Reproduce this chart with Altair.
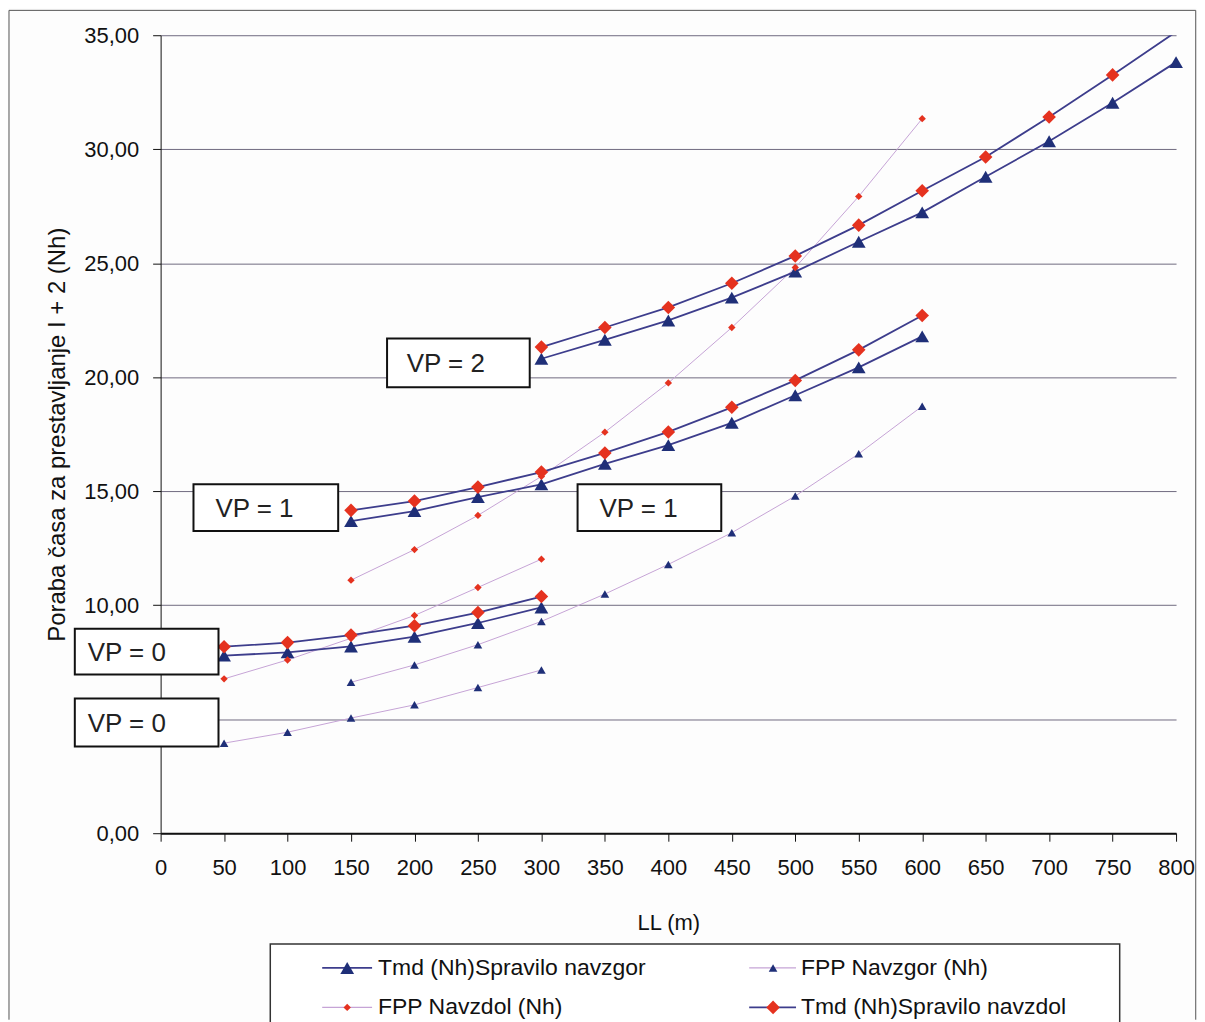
import altair as alt
import pandas as pd

# ---------------- data ----------------
series_names = [
    "Tmd (Nh)Spravilo navzgor",
    "FPP Navzgor (Nh)",
    "FPP Navzdol (Nh)",
    "Tmd (Nh)Spravilo navzdol",
]

x_vp0 = [50, 100, 150, 200, 250, 300]
x_vp1 = [150, 200, 250, 300, 350, 400, 450, 500, 550, 600]
x_vp2 = [300, 350, 400, 450, 500, 550, 600, 650, 700, 750, 800]

# VP = 0
tmd_gor_vp0 = [7.79, 7.93, 8.19, 8.62, 9.22, 9.90]
tmd_dol_vp0 = [8.18, 8.36, 8.69, 9.10, 9.68, 10.38]
fpp_gor_vp0 = [3.95, 4.43, 5.05, 5.63, 6.39, 7.16]
fpp_dol_vp0 = [6.77, 7.60, 8.55, 9.55, 10.78, 12.02]

# VP = 1
tmd_gor_vp1 = [13.69, 14.13, 14.74, 15.30, 16.20, 17.02, 18.00, 19.21, 20.43, 21.79]
tmd_dol_vp1 = [14.16, 14.57, 15.18, 15.84, 16.68, 17.60, 18.68, 19.86, 21.20, 22.71]
fpp_gor_vp1 = [6.62, 7.38, 8.27, 9.29, 10.49, 11.79, 13.18, 14.79, 16.64, 18.73]
fpp_dol_vp1 = [11.10, 12.44, 13.94, 15.65, 17.59, 19.75, 22.18, 24.81, 27.93, 31.34]

# VP = 2
tmd_gor_vp2 = [20.81, 21.64, 22.49, 23.49, 24.63, 25.94, 27.23, 28.79, 30.35, 32.04, 33.82]
tmd_dol_vp2 = [21.32, 22.18, 23.06, 24.12, 25.32, 26.67, 28.18, 29.66, 31.41, 33.26, 35.15]

ann_labels = ["VP = 2", "VP = 1", "VP = 1", "VP = 0", "VP = 0"]

x_ticks = list(range(0, 801, 50))
y_ticks = [0, 5, 10, 15, 20, 25, 30, 35]

# ---------------- build tables ----------------
segments = [
    (0, "0", x_vp0, tmd_gor_vp0), (3, "0", x_vp0, tmd_dol_vp0),
    (1, "0", x_vp0, fpp_gor_vp0), (2, "0", x_vp0, fpp_dol_vp0),
    (0, "1", x_vp1, tmd_gor_vp1), (3, "1", x_vp1, tmd_dol_vp1),
    (1, "1", x_vp1, fpp_gor_vp1), (2, "1", x_vp1, fpp_dol_vp1),
    (0, "2", x_vp2, tmd_gor_vp2), (3, "2", x_vp2, tmd_dol_vp2),
]
rows = []
for si, vp, xs, ys in segments:
    for xv, yv in zip(xs, ys):
        rows.append({"x": xv, "y": yv, "series": series_names[si], "si": si,
                     "kind": "Tmd" if si in (0, 3) else "FPP",
                     "key": f"{si}-{vp}"})
df = pd.DataFrame(rows)

# annotation boxes (layout, in axis units)
ann_x0 = [178.4, 25.9, 328.5, -67.6, -67.6]
ann_x1 = [290.8, 139.9, 441.7, 45.6, 45.6]
ann_y0 = [19.56, 13.26, 13.26, 6.96, 3.80]
ann_y1 = [21.70, 15.31, 15.31, 8.97, 5.91]
ann_tx = [193.9, 43.2, 345.8, -57.4, -57.4]
ann = pd.DataFrame({"label": ann_labels, "x": ann_x0, "x2": ann_x1,
                    "y": ann_y0, "y2": ann_y1, "tx": ann_tx})
ann["ty"] = (ann["y"] + ann["y2"]) / 2 - 0.05

# legend (layout, in axis units)
leg_col_line0 = [127.3, 463.7]
leg_col_line1 = [166.6, 500.6]
leg_col_mark = [147.0, 482.5]
leg_col_text = [171.3, 504.5]
leg_row_y = [-5.91, -7.64]
leg_rows = []
for i, name in enumerate(series_names):
    c = i % 2
    r = i // 2
    leg_rows.append({"series": name, "si": i, "kind": "Tmd" if i in (0, 3) else "FPP",
                     "x": leg_col_line0[c], "x2": leg_col_line1[c],
                     "mx": leg_col_mark[c], "tx": leg_col_text[c], "y": leg_row_y[r]})
leg = pd.DataFrame(leg_rows)
leg_box = pd.DataFrame({"x": [86.4], "x2": [755.6], "y": [-4.86], "y2": [-8.7]})

frame = pd.DataFrame({"x": [-119.45], "x2": [815.5], "y": [36.09], "y2": [-8.18]})

# ---------------- styles ----------------
FONT = "Liberation Sans"
NAVY_LINE = "#3d3d8c"
LAV_LINE = "#c6a4d6"
TRI = "#1f2f78"
RED = "#e5321f"

marker_shape = ["triangle-up", "triangle-up", "diamond", "diamond"]
marker_color = [TRI, TRI, RED, RED]
marker_size = [190, 75, 55, 185]

xscale = alt.Scale(domain=[0, 800], nice=False, zero=False)
yscale = alt.Scale(domain=[0, 35], nice=False, zero=False)

x_axis = alt.Axis(values=x_ticks, format="d", title="LL (m)", grid=False,
                  labelFont=FONT, labelFontSize=22, labelColor="#111",
                  labelFlush=False, labelPadding=16, tickSize=8,
                  tickColor="#111", domainColor="#111", domainWidth=2,
                  titleFont=FONT, titleFontSize=22, titleFontWeight="normal",
                  titleColor="#111", titlePadding=35)
# the 5,00 label is hidden behind the lower "VP = 0" box in the original
y_axis = alt.Axis(values=y_ticks,
                  labelExpr="datum.value == 5 ? '' : replace(format(datum.value, '.2f'), '.', ',')",
                  title="Poraba časa za prestavljanje I + 2 (Nh)",
                  grid=True, gridColor="#6f6a80", gridWidth=1,
                  labelFont=FONT, labelFontSize=22, labelColor="#111",
                  labelPadding=14, tickSize=8, tickColor="#111",
                  domainColor="#111", domainWidth=1,
                  titleFont=FONT, titleFontSize=24, titleFontWeight="normal",
                  titleColor="#111", titlePadding=14)


def X(field):
    return alt.X(field, type="quantitative", scale=xscale, axis=x_axis)


def Y(field):
    return alt.Y(field, type="quantitative", scale=yscale, axis=y_axis)


base = alt.Chart(df)

fpp_lines = base.transform_filter("datum.kind == 'FPP'").mark_line(
    color=LAV_LINE, strokeWidth=1, clip=True).encode(
    x=X("x"), y=Y("y"), detail="key:N", order="x:Q")

tmd_lines = base.transform_filter("datum.kind == 'Tmd'").mark_line(
    color=NAVY_LINE, strokeWidth=1.8, clip=True).encode(
    x=X("x"), y=Y("y"), detail="key:N", order="x:Q")

point_layers = []
for i in range(4):
    point_layers.append(
        base.transform_filter(f"datum.si == {i} && datum.y <= 35").mark_point(
            filled=True, opacity=1, strokeWidth=0, shape=marker_shape[i],
            color=marker_color[i], size=marker_size[i]).encode(
            x=X("x"), y=Y("y")))

# frame around the whole chart
fr = alt.Chart(frame)
frame_left = fr.mark_rule(color="#555", strokeWidth=1).encode(
    x=X("x"), y=Y("y"), y2="y2:Q")
frame_right = fr.transform_calculate(x="datum.x2").mark_rule(
    color="#555", strokeWidth=1).encode(x=X("x"), y=Y("y"), y2="y2:Q")
frame_top = fr.mark_rule(color="#555", strokeWidth=1).encode(
    x=X("x"), x2="x2:Q", y=Y("y"))

an = alt.Chart(ann)
ann_box = an.mark_rect(fill="white", stroke="#111", strokeWidth=2).encode(
    x=X("x"), x2="x2:Q", y=Y("y"), y2="y2:Q")
ann_text = an.transform_calculate(x="datum.tx", y="datum.ty").mark_text(
    align="left", baseline="middle", font=FONT, fontSize=26, color="#222").encode(
    x=X("x"), y=Y("y"), text="label:N")

lb = alt.Chart(leg_box).mark_rect(fill="white", stroke="#333", strokeWidth=1.5).encode(
    x=X("x"), x2="x2:Q", y=Y("y"), y2="y2:Q")
lg = alt.Chart(leg)
leg_fpp_lines = lg.transform_filter("datum.kind == 'FPP'").mark_rule(
    color=LAV_LINE, strokeWidth=1.2).encode(x=X("x"), x2="x2:Q", y=Y("y"))
leg_tmd_lines = lg.transform_filter("datum.kind == 'Tmd'").mark_rule(
    color=NAVY_LINE, strokeWidth=1.8).encode(x=X("x"), x2="x2:Q", y=Y("y"))
leg_point_layers = []
for i in range(4):
    leg_point_layers.append(
        lg.transform_filter(f"datum.si == {i}").transform_calculate(x="datum.mx").mark_point(
            filled=True, opacity=1, strokeWidth=0, shape=marker_shape[i],
            color=marker_color[i], size=marker_size[i]).encode(
            x=X("x"), y=Y("y")))
leg_text = lg.transform_calculate(x="datum.tx").mark_text(
    align="left", baseline="middle", font=FONT, fontSize=23, color="#111").encode(
    x=X("x"), y=Y("y"), text="series:N")

chart = alt.layer(
    fpp_lines, tmd_lines, *point_layers,
    frame_left, frame_right, frame_top,
    ann_box, ann_text,
    lb, leg_fpp_lines, leg_tmd_lines, *leg_point_layers, leg_text,
).properties(width=1018, height=800, padding=0, background="#fdfdfd"
).configure_view(strokeWidth=0)

chart.save("out.html", embed_options={"renderer": "svg", "actions": False})
